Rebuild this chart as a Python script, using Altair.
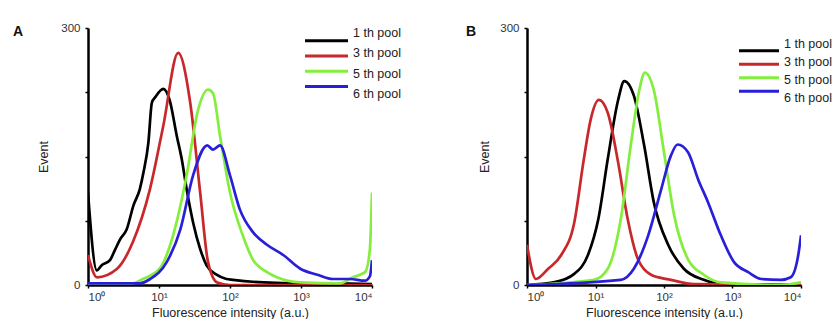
import altair as alt
import pandas as pd

series = ["1 th pool", "3 th pool", "5 th pool", "6 th pool"]
colors = ["#000000", "#c8282c", "#84ee3c", "#2a1fd8"]
x_ticks = [1, 10, 100, 1000, 10000]
y_ticks = [0, 75, 150, 225, 300]

# ---------- Panel A ----------
a1_x = [1, 1.33, 1.56, 2.04, 2.40, 2.82, 3.51, 4.37, 5.37, 6.03, 7.08, 7.94, 8.81, 11.5, 14.1, 17.8,
        20.9, 24.5, 30.2, 38.0, 46.8, 64.6, 89.1, 110, 300, 1000, 3000, 10000]
a1_y = [108, 17, 23, 29, 41, 53, 65, 93, 112, 131, 166, 213, 219, 229, 216, 174,
        147, 112, 73, 42, 23, 12, 7, 6, 3, 2, 2, 1]

a3_x = [1, 1.34, 2.57, 4.27, 7.46, 11.5, 18.6, 27.5, 38.0, 49.0, 66.0, 100, 1000, 10000]
a3_y = [35, 9, 19, 50, 112, 186, 271, 213, 108, 27, 3, 0, 0, 0]

a5_x = [1, 3.9, 5.9, 10.2, 15.8, 24.5, 34.7, 49.0, 57.5, 72.4, 100, 151, 209, 331, 457, 977,
        3548, 5370, 8000, 9300, 10000]
a5_y = [1, 1, 7, 19, 58, 128, 201, 228, 224, 174, 108, 58, 30, 15, 9, 3,
        2, 9, 15, 40, 108]

a6_x = [1, 5.4, 7.5, 12.9, 20.0, 30.2, 47.9, 57.5, 72.4, 100, 138, 209, 331, 562, 977, 1698,
        2818, 4898, 7943, 9333, 10000]
a6_y = [2, 2, 7, 27, 65, 128, 163, 158, 163, 128, 88, 62, 47, 35, 19, 12,
        7, 7, 5, 10, 29]

# ---------- Panel B ----------
b1_x = [1, 2.45, 4.9, 7.76, 11.0, 15.1, 21.4, 26.3, 36.3, 51.3, 70.8, 115, 195, 380, 676, 10000]
b1_y = [0, 3, 13, 35, 77, 147, 216, 238, 221, 163, 97, 47, 19, 6, 1, 0]

b3_x = [1, 1.35, 2.04, 3.16, 4.9, 6.76, 8.5, 11.2, 15.1, 21.4, 29.5, 41.7, 64.6, 126, 275, 10000]
b3_y = [47, 7, 19, 35, 73, 147, 193, 216, 201, 143, 77, 30, 12, 6, 1, 0]

b5_x = [1, 9.5, 15.1, 23.4, 33.1, 43.7, 52.5, 70.8, 100, 141, 224, 380, 676, 5129, 10000]
b5_y = [0, 6, 19, 77, 166, 228, 248, 228, 155, 81, 30, 12, 3, 0, 3]

b6_x = [1, 23.4, 36.3, 58.9, 91.2, 126, 158, 224, 316, 437, 676, 1047, 1698, 2630, 5129, 7079,
        9120, 10000]
b6_y = [0, 6, 19, 58, 112, 151, 164, 155, 123, 97, 58, 27, 15, 7, 6, 9,
        35, 58]


def frame(xs, ys):
    rows = []
    for name, xv, yv in zip(series, xs, ys):
        for i, (a, b) in enumerate(zip(xv, yv)):
            rows.append({"pool": name, "intensity": a, "event": b, "i": i})
    return pd.DataFrame(rows)


df_a = frame([a1_x, a3_x, a5_x, a6_x], [a1_y, a3_y, a5_y, a6_y])
df_b = frame([b1_x, b3_x, b5_x, b6_x], [b1_y, b3_y, b5_y, b6_y])
df_leg = pd.DataFrame({"pool": series})

FONT = "Liberation Sans"
sup_expr = "'10' + ['\u2070','\u00b9','\u00b2','\u00b3','\u2074'][round(log(datum.value)/LN10)]"
color_scale = alt.Scale(domain=series, range=colors)


def panel(df, letter, letter_x, width, ytitle_pad, leg_x0, leg_x1, leg_range):
    lines = alt.Chart(df).mark_line(strokeWidth=2.7, interpolate="monotone", clip=True).encode(
        x=alt.X("intensity:Q",
                scale=alt.Scale(type="log", domain=[1, 10000], nice=False),
                axis=alt.Axis(values=x_ticks, labelExpr=sup_expr,
                              title="Fluorescence intensity (a.u.)",
                              titlePadding=4, labelPadding=3, tickSize=3,
                              grid=False)),
        y=alt.Y("event:Q",
                scale=alt.Scale(domain=[0, 300], nice=False),
                axis=alt.Axis(values=y_ticks,
                              labelExpr="(datum.value == 0 || datum.value == 300) ? datum.label : ''",
                              title="Event", titlePadding=ytitle_pad, labelPadding=5,
                              tickSize=3, grid=False)),
        color=alt.Color("pool:N", scale=color_scale, legend=None),
        order="i:Q",
    )
    leg_y = alt.Y("pool:N", scale=alt.Scale(domain=series, range=leg_range, padding=0), axis=None)
    leg_rules = alt.Chart(df_leg).mark_rule(strokeWidth=3).encode(
        x=alt.value(leg_x0), x2=alt.value(leg_x1), y=leg_y,
        color=alt.Color("pool:N", scale=color_scale, legend=None),
    )
    leg_text = alt.Chart(df_leg).mark_text(
        align="left", baseline="middle", fontSize=12.5, font=FONT, color="#222"
    ).encode(x=alt.value(leg_x1 + 5), y=leg_y, text="pool:N")
    txt = alt.Chart(pd.DataFrame({"t": [letter]})).mark_text(
        align="left", baseline="middle", fontWeight="bold", fontSize=14, font=FONT, color="#111"
    ).encode(x=alt.value(letter_x), y=alt.value(4), text="t:N")
    return alt.layer(lines, leg_rules, leg_text, txt).resolve_scale(y="independent").properties(
        width=width, height=257)


pa = panel(df_a, "A", -75, 284, 10, 217, 260, [5, 66])
pb = panel(df_b, "B", -61, 274, 8, 212, 252, [16, 70])

chart = alt.hconcat(pa, pb, spacing=65).properties(
    padding={"left": 13, "top": 22, "right": 0, "bottom": 0}
).configure_view(stroke=None).configure_axis(
    domainColor="#000", domainWidth=2.5, tickColor="#000", tickWidth=1.5,
    labelFont=FONT, labelFontSize=11.5, labelColor="#333",
    titleFont=FONT, titleFontSize=12.5, titleColor="#222", titleFontWeight="normal",
)

chart.save("out.html", embed_options={"renderer": "svg", "actions": False})
